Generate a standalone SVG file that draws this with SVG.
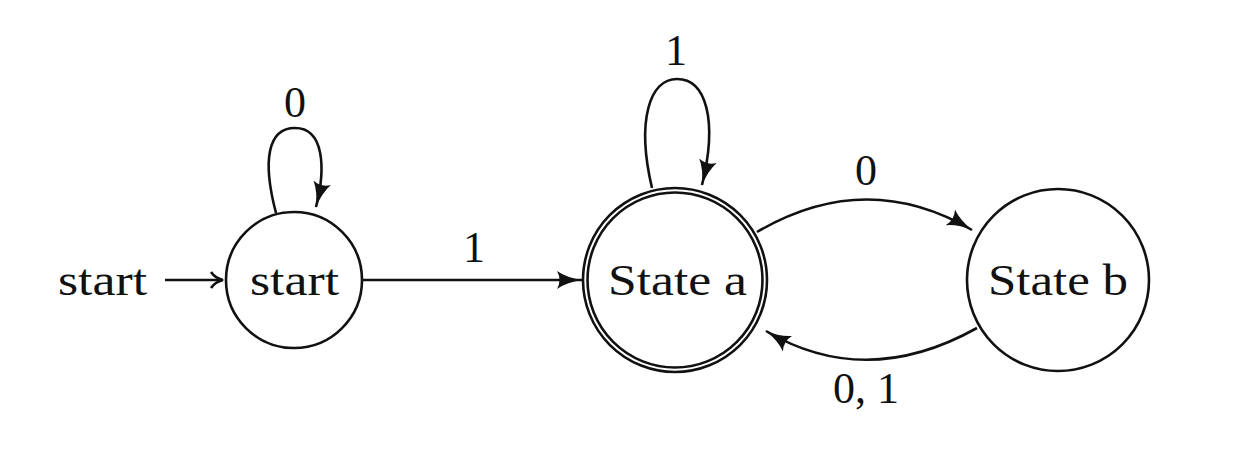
<svg xmlns="http://www.w3.org/2000/svg" width="1240" height="462" viewBox="0 0 1240 462">
<style>
.st{fill:#fff;stroke:#111;stroke-width:2.6}
.ed{fill:none;stroke:#111;stroke-width:2.6}
.t{font-family:"Liberation Serif","DejaVu Serif",serif;font-size:44px;fill:#111}
.m{text-anchor:middle}
</style>
<defs>
<marker id="ah" markerUnits="userSpaceOnUse" markerWidth="30" markerHeight="20" refX="25" refY="9" orient="auto" viewBox="0 0 30 18">
<path d="M0 0 Q10 7 26 9 Q10 11 0 18 Q5 9 0 0 Z" fill="#111"/>
</marker>
</defs>
<rect width="1240" height="462" fill="#fff"/>
<g id="edges">
<g id="init"><line class="ed" x1="165" y1="280" x2="222" y2="280"/><path class="ed" d="M211 272 Q215 278 223 280 Q215 282 211 288"/></g>
<path id="e-start-loop" class="ed" d="M276 213 C 262 160, 268 128, 295 128 C 324 128, 326 168, 316 207" marker-end="url(#ah)"/>
<path id="e-start-a" class="ed" d="M362 280 L 582 280" marker-end="url(#ah)"/>
<path id="e-a-loop" class="ed" d="M652 188 C 636 120, 650 79, 677 79 C 706 79, 718 120, 702 185" marker-end="url(#ah)"/>
<path id="e-a-b" class="ed" d="M757 232 Q 866 168 972 230" marker-end="url(#ah)"/>
<path id="e-b-a" class="ed" d="M977 328 Q 866 390 766 331" marker-end="url(#ah)"/>
<text class="t m" x="295" y="117">0</text>
<text class="t m" x="474" y="262">1</text>
<text class="t m" x="676" y="65">1</text>
<text class="t m" x="866" y="185">0</text>
<text class="t m" x="866" y="403">0, 1</text>
</g>
<text class="t" x="58" y="295" textLength="89" lengthAdjust="spacingAndGlyphs">start</text>
<g id="n-start"><circle class="st" cx="294" cy="280" r="68"/><text class="t" x="250" y="295" textLength="89" lengthAdjust="spacingAndGlyphs">start</text></g>
<g id="n-a"><circle class="st" cx="675" cy="280" r="92"/><circle class="st" cx="675" cy="280" r="87.5"/><text class="t" x="608" y="295" textLength="139" lengthAdjust="spacingAndGlyphs">State a</text></g>
<g id="n-b"><circle class="st" cx="1058" cy="280" r="91"/><text class="t" x="988" y="295" textLength="140" lengthAdjust="spacingAndGlyphs">State b</text></g>
</svg>
